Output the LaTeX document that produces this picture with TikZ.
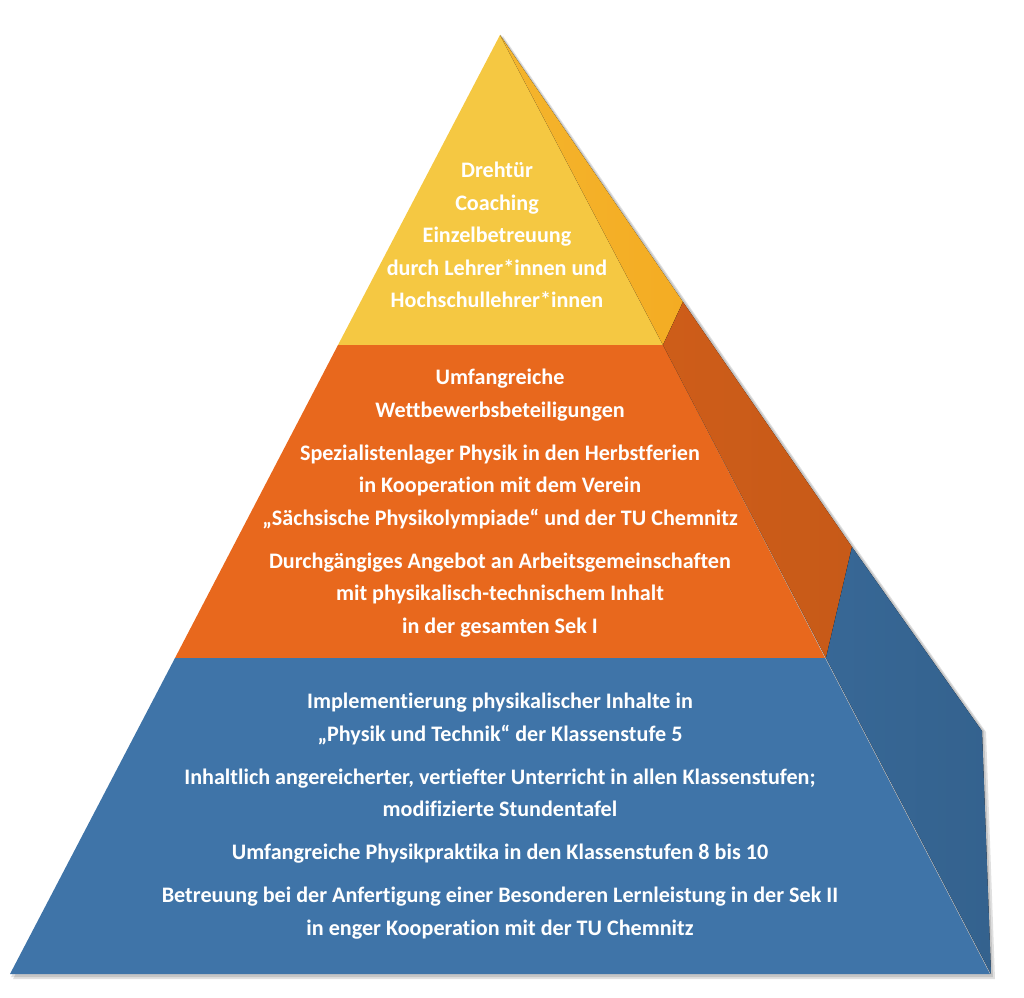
\documentclass[tikz,border=0pt]{standalone}
\usepackage{fontspec}
\setmainfont{Carlito}[Ligatures=NoCommon]
\usetikzlibrary{shadows}

\definecolor{tipfront}{RGB}{245,200,66}
\definecolor{tipside}{RGB}{244,172,35}
\definecolor{midfront}{RGB}{232,104,29}
\definecolor{midside}{RGB}{199,90,24}
\definecolor{basefront}{RGB}{63,116,168}
\definecolor{baseside}{RGB}{52,98,142}

\begin{document}
\begin{tikzpicture}[x=0.02cm,y=-0.02cm,
  lvltext/.style={text=white, align=center, inner sep=0pt,
    font=\bfseries\fontsize{12.6}{18.5}\selectfont}]
  \useasboundingbox (0,0) rectangle (1024,997);
  % soft shadow of the whole pyramid
  \fill[black, opacity=0.12] (503,36) -- (856,548) -- (986,732) -- (995,979) -- (13,979) -- cycle;
  \fill[black, opacity=0.12] (501,35) -- (854,547) -- (984,731) -- (993,977) -- (11,977) -- cycle;
  % front faces
  \fill[tipfront] (500,35) -- (663,345) -- (338,345) -- cycle;
  \fill[midfront] (338,345) -- (663,345) -- (825,658) -- (175,658) -- cycle;
  \fill[basefront] (175,658) -- (825,658) -- (990,974) -- (10,974) -- cycle;
  % side faces
  \fill[left color=tipside!70!tipfront, right color=tipside] (500,35) -- (683,302) -- (663,345) -- cycle;
  \fill[left color=midside!80!midfront, right color=midside] (663,345) -- (683,302) -- (852,547) -- (826,658) -- cycle;
  \fill[left color=baseside!70!basefront, right color=baseside] (826,658) -- (852,547) -- (982,731) -- (991,974) -- cycle;
  % texts
  \node[lvltext] (tiptext) at (497,235) {Drehtür\\Coaching\\Einzelbetreuung\\durch Lehrer*innen und\\Hochschullehrer*innen};
  \node[lvltext] (midtext) at (500,503) {Umfangreiche\\Wettbewerbsbeteiligungen\\[6pt]
    Spezialistenlager Physik in den Herbstferien\\in Kooperation mit dem Verein\\„Sächsische Physikolympiade“ und der TU Chemnitz\\[6pt]
    Durchgängiges Angebot an Arbeitsgemeinschaften\\mit physikalisch-technischem Inhalt\\in der gesamten Sek I};
  \node[lvltext] (basetext) at (500,816) {Implementierung physikalischer Inhalte in\\„Physik und Technik“ der Klassenstufe 5\\[6pt]
    Inhaltlich angereicherter, vertiefter Unterricht in allen Klassenstufen;\\modifizierte Stundentafel\\[6pt]
    Umfangreiche Physikpraktika in den Klassenstufen 8 bis 10\\[6pt]
    Betreuung bei der Anfertigung einer Besonderen Lernleistung in der Sek II\\in enger Kooperation mit der TU Chemnitz};
\end{tikzpicture}
\end{document}
